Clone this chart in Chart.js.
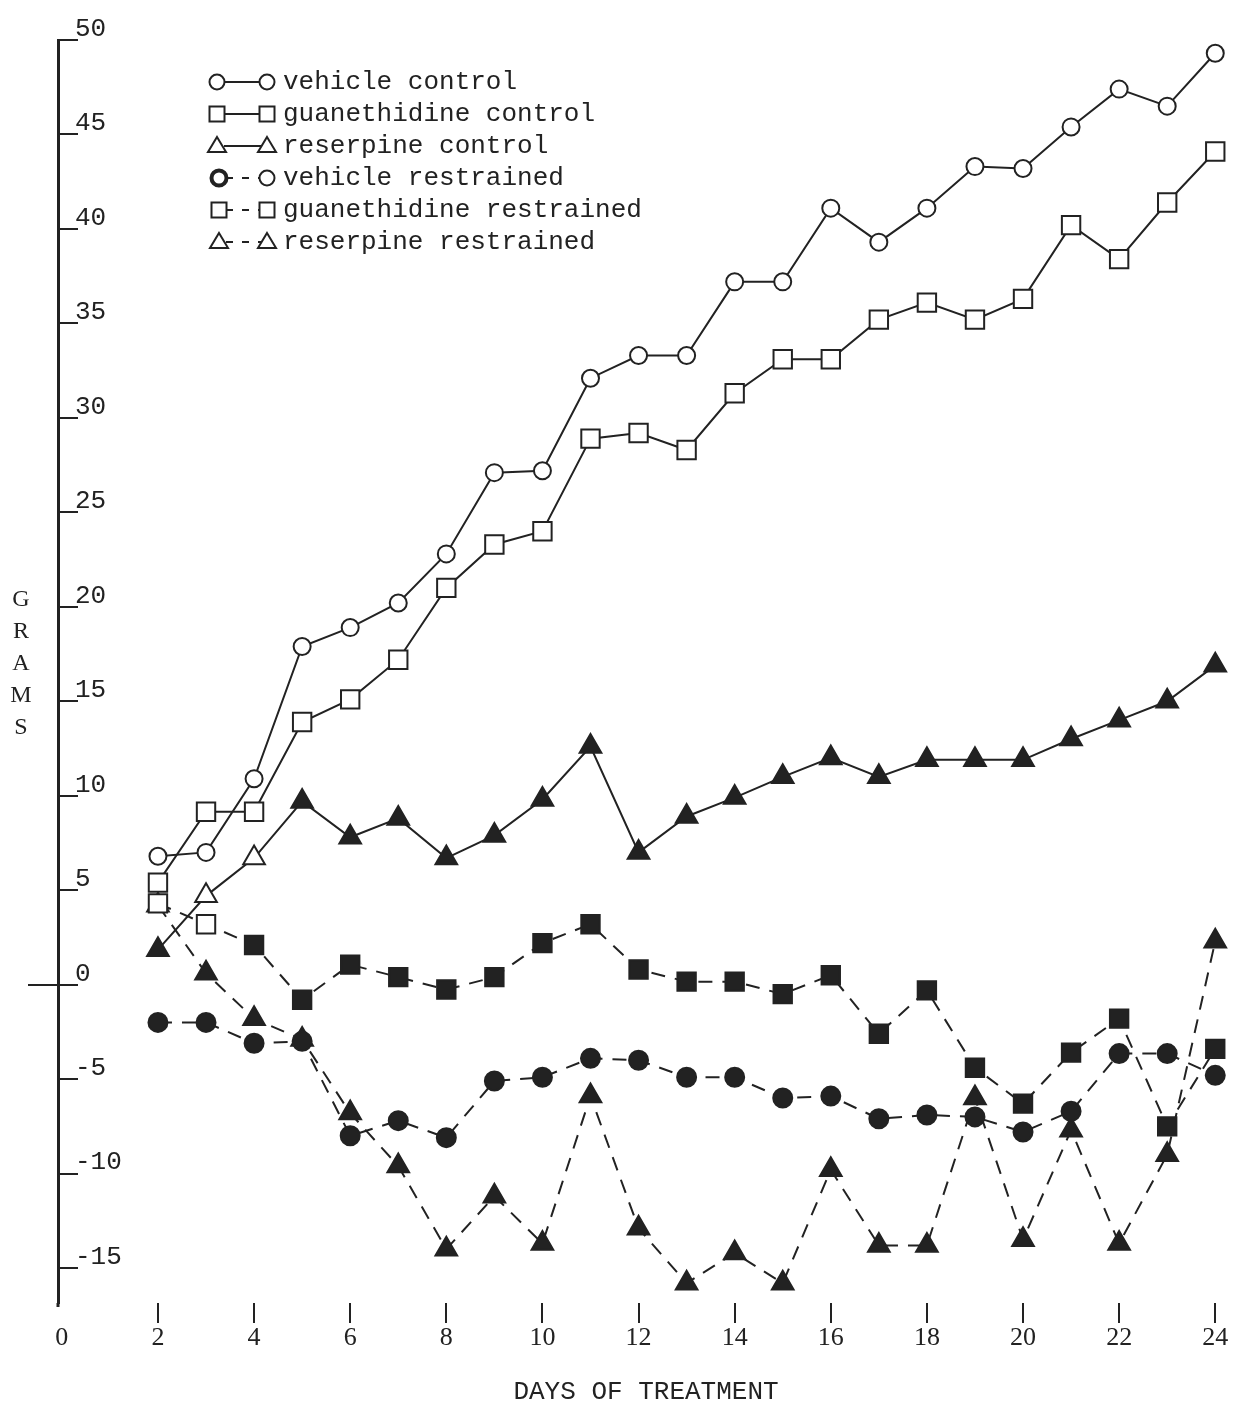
<!DOCTYPE html>
<html><head><meta charset="utf-8">
<script src="https://cdn.jsdelivr.net/npm/chart.js@4.4.1/dist/chart.umd.min.js"></script>
<style>
html,body{margin:0;padding:0;background:#fff;}
#wrap{position:relative;width:1234px;height:1408px;overflow:hidden;}
#c{position:absolute;left:0;top:0;}
#legend{position:absolute;left:205px;top:66px;font-family:"Liberation Mono",monospace;font-size:26px;color:#222;}
.row{display:flex;align-items:center;height:32px;white-space:nowrap;}
.row svg{width:78px;height:32px;flex:none;}
#ytitle{position:absolute;left:8px;top:582px;font-family:"Liberation Serif",serif;font-size:24px;line-height:32px;width:26px;text-align:center;color:#222;}
</style></head>
<body>
<div id="wrap">
<canvas id="c" width="1234" height="1408"></canvas>
<div id="legend"></div>
<div id="ytitle">G<br>R<br>A<br>M<br>S</div>
</div>
<script>
// ---- data ----
const days = [2,3,4,5,6,7,8,9,10,11,12,13,14,15,16,17,18,19,20,21,22,23,24];
const xTickValues = [0,2,4,6,8,10,12,14,16,18,20,22,24];
const xTickLabels = ['0','2','4','6','8','10','12','14','16','18','20','22','24'];
const yTickValues = [-15,-10,-5,0,5,10,15,20,25,30,35,40,45,50];
const yTickLabels = ['-15','-10','-5','0','5','10','15','20','25','30','35','40','45','50'];
const seriesNames = ['vehicle control','guanethidine control','reserpine control','vehicle restrained','guanethidine restrained','reserpine restrained'];

const vehicleControl = [6.8,7.0,10.9,17.9,18.9,20.2,22.8,27.1,27.2,32.1,33.3,33.3,37.2,37.2,41.1,39.3,41.1,43.3,43.2,45.4,47.4,46.5,49.3];
const guanethidineControl = [5.4,9.15,9.15,13.9,15.1,17.2,21.0,23.3,24.0,28.9,29.2,28.3,31.3,33.1,33.1,35.2,36.1,35.2,36.3,40.2,38.4,41.4,44.1];
const reserpineControl = [1.85,4.7,6.7,9.7,7.8,8.8,6.7,7.9,9.8,12.6,7.0,8.9,9.9,11.0,12.0,11.0,11.9,11.9,11.9,13.0,14.0,15.0,16.9];
const vehicleRestrained = [-2.0,-2.0,-3.1,-3.0,-8.0,-7.2,-8.1,-5.1,-4.9,-3.9,-4.0,-4.9,-4.9,-6.0,-5.9,-7.1,-6.9,-7.0,-7.8,-6.7,-3.65,-3.65,-4.8];
const guanethidineRestrained = [4.3,3.2,2.1,-0.8,1.06,0.4,-0.26,0.4,2.2,3.2,0.8,0.16,0.16,-0.5,0.5,-2.6,-0.3,-4.4,-6.3,-3.6,-1.8,-7.5,-3.4];
const reserpineRestrained = [4.2,0.6,-1.8,-2.9,-6.8,-9.6,-14.0,-11.2,-13.7,-5.9,-12.9,-15.8,-14.2,-15.8,-9.8,-13.8,-13.8,-6.0,-13.5,-7.7,-13.7,-9.0,2.3];

// days drawn with open (unfilled) markers
const openVehicleControl = days;
const openGuanethidineControl = days;
const openReserpineControl = [3,4];
const openVehicleRestrained = [];
const openGuanethidineRestrained = [2,3];
const openReserpineRestrained = [2];

// ---- styling ----
const INK = '#222';
const seriesValues = [vehicleControl,guanethidineControl,reserpineControl,vehicleRestrained,guanethidineRestrained,reserpineRestrained];
const seriesOpen = [openVehicleControl,openGuanethidineControl,openReserpineControl,openVehicleRestrained,openGuanethidineRestrained,openReserpineRestrained];
const seriesShape = ['circle','rect','triangle','circle','rect','triangle'];
const seriesDashed = [false,false,false,true,true,true];
const shapeRadius = {circle:8.5, rect:13, triangle:12.5};

const datasets = seriesValues.map((vals, i) => {
  const shape = seriesShape[i];
  const open = seriesOpen[i];
  return {
    label: seriesNames[i],
    data: days.map((d, k) => ({x: d, y: vals[k]})),
    borderColor: INK,
    borderWidth: 2,
    borderDash: seriesDashed[i] ? [14, 10] : [],
    pointStyle: shape,
    pointRadius: days.map(d => open.includes(d) ? shapeRadius[shape] : shapeRadius[shape] + (shape==='circle'?1:0)),
    pointBorderWidth: 2,
    pointBorderColor: INK,
    pointBackgroundColor: days.map(d => open.includes(d) ? '#fff' : INK),
    tension: 0,
    fill: false,
    clip: false
  };
});

const tickMarks = {
  id: 'tickMarks',
  afterDraw(chart) {
    const ctx = chart.ctx, ys = chart.scales.y;
    const x0 = ys.right;
    ctx.save();
    ctx.strokeStyle = INK;
    ctx.lineWidth = 2;
    yTickValues.forEach(v => {
      const py = Math.round(ys.getPixelForValue(v));
      ctx.beginPath();
      ctx.moveTo(v === 0 ? x0 - 30 : x0, py);
      ctx.lineTo(x0 + 20, py);
      ctx.stroke();
    });
    ctx.lineWidth = 3;
    ctx.beginPath();
    ctx.moveTo(x0, chart.chartArea.bottom);
    ctx.lineTo(x0, chart.chartArea.bottom + 4);
    ctx.stroke();
    ctx.restore();
  }
};

new Chart(document.getElementById('c'), {
  type: 'line',
  data: { datasets },
  plugins: [tickMarks],
  options: {
    responsive: false,
    animation: false,
    devicePixelRatio: 1,
    layout: { autoPadding: false, padding: { left: 58, top: 40, right: 0, bottom: 0 } },
    plugins: { legend: { display: false }, title: { display: false }, tooltip: { enabled: false } },
    scales: {
      x: {
        type: 'linear',
        min: -0.08, max: 24.39,
        afterBuildTicks: s => { s.ticks = xTickValues.map(v => ({value: v})); },
        afterFit: s => { s.height = 105; s.paddingLeft = 0; s.paddingRight = 0; },
        border: { display: false },
        grid: {
          display: true, drawOnChartArea: false, drawTicks: true, tickLength: 20,
          lineWidth: 2,
          color: c => (c.tick && c.tick.value === 0) ? 'rgba(0,0,0,0)' : INK
        },
        ticks: {
          padding: 0,
          color: INK,
          font: { family: '"Liberation Serif", serif', size: 26 },
          maxRotation: 0, autoSkip: false,
          callback: (v) => { const i = xTickValues.indexOf(v); return i >= 0 ? xTickLabels[i] : ''; }
        },
        title: {
          display: true, text: 'DAYS OF TREATMENT', color: INK,
          font: { family: '"Liberation Mono", monospace', size: 26 },
          padding: { top: 0, bottom: 0 }
        }
      },
      y: {
        type: 'linear',
        min: -16.85, max: 50,
        afterBuildTicks: s => { s.ticks = yTickValues.map(v => ({value: v})); },
        afterFit: s => { s.width = 0; },
        border: { display: true, color: INK, width: 3 },
        grid: { display: true, drawOnChartArea: false, drawTicks: false, color: 'rgba(0,0,0,0)' },
        ticks: {
          mirror: true, padding: 17, labelOffset: -11, color: INK,
          font: { family: '"Liberation Mono", monospace', size: 26 },
          autoSkip: false,
          callback: (v) => { const i = yTickValues.indexOf(v); return i >= 0 ? yTickLabels[i] : ''; }
        }
      }
    }
  }
});

// ---- legend (HTML, built from the series) ----
function markerSvg(shape, cx, filled, sw) {
  const fill = filled ? INK : '#fff';
  if (shape === 'circle') return `<circle cx="${cx}" cy="16" r="7.5" fill="${fill}" stroke="${INK}" stroke-width="${sw}"/>`;
  if (shape === 'rect') return `<rect x="${cx-7.5}" y="8.5" width="15" height="15" fill="${fill}" stroke="${INK}" stroke-width="${sw}"/>`;
  return `<polygon points="${cx},7 ${cx+9},22 ${cx-9},22" fill="${fill}" stroke="${INK}" stroke-width="${sw}" stroke-linejoin="miter"/>`;
}
const legend = document.getElementById('legend');
seriesNames.forEach((name, i) => {
  const shape = seriesShape[i];
  const dashed = seriesDashed[i];
  const x1 = dashed ? 14 : 12, x2 = 62;
  const line = `<line x1="${x1+7}" y1="16" x2="${x2-6}" y2="16" stroke="${INK}" stroke-width="2" ${dashed ? 'stroke-dasharray="7 9"' : ''}/>`;
  const firstSw = (dashed && shape === 'circle') ? 4 : 2;
  const svg = `<svg viewBox="0 0 78 32">${line}${markerSvg(shape, x1, false, firstSw)}${markerSvg(shape, x2, false, 2)}</svg>`;
  const row = document.createElement('div');
  row.className = 'row';
  row.innerHTML = svg + `<span>${name}</span>`;
  legend.appendChild(row);
});
</script>
</body></html>
